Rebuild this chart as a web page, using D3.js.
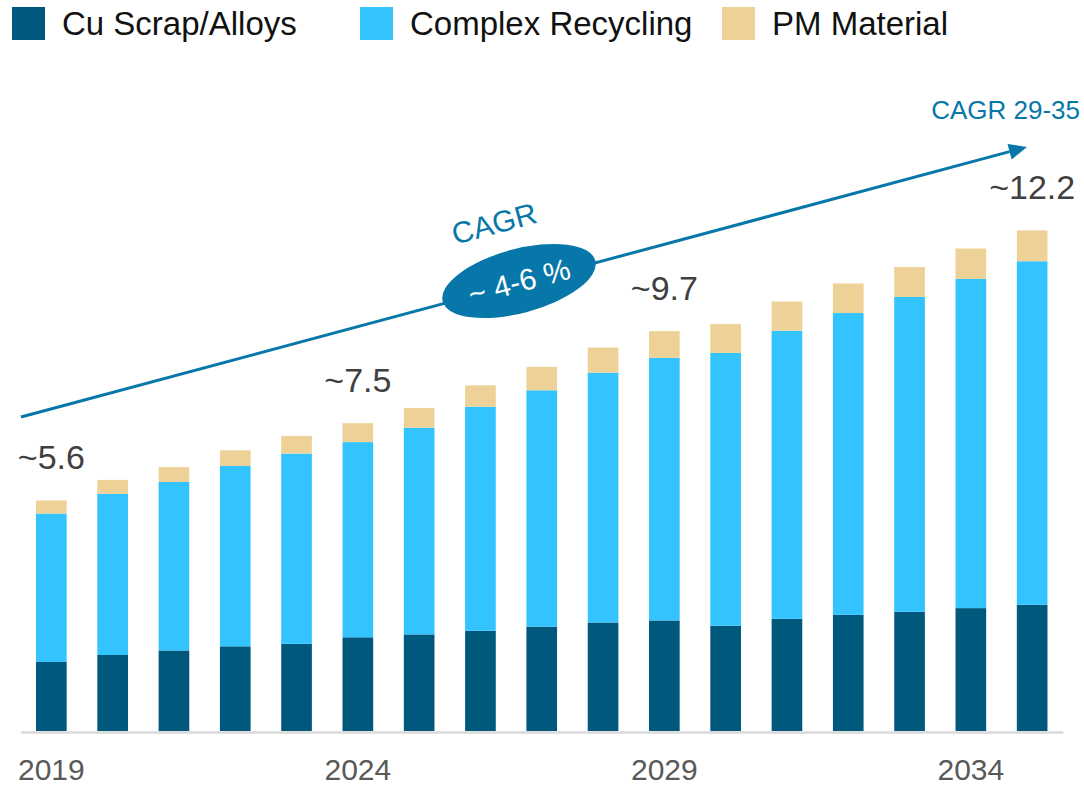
<!DOCTYPE html>
<html>
<head>
<meta charset="utf-8">
<script src="https://cdn.jsdelivr.net/npm/d3@7"></script>
<style>
    body { margin: 0; background: #fff; }
    text { font-family: "Liberation Sans", Arial, sans-serif; }
</style>
</head>
<body>
<div id="chart"></div>
<script>
// data (values in same unit as the labels)
var years = ["2019", "2020", "2021", "2022", "2023", "2024", "2025", "2026", "2027",
             "2028", "2029", "2030", "2031", "2032", "2033", "2034", "2035"];
var cuScrap = [1.68, 1.85, 1.96, 2.06, 2.12, 2.28, 2.35, 2.44, 2.54, 2.64, 2.69, 2.56, 2.73, 2.83, 2.90, 2.99, 3.07];
var complexRecycling = [3.61, 3.92, 4.10, 4.39, 4.63, 4.75, 5.03, 5.45, 5.75, 6.08, 6.39, 6.64, 7.01, 7.34, 7.66, 8.01, 8.36];
var pmMaterial = [0.32, 0.34, 0.36, 0.38, 0.43, 0.46, 0.48, 0.52, 0.57, 0.61, 0.65, 0.70, 0.71, 0.72, 0.73, 0.74, 0.75];
var seriesNames = ["Cu Scrap/Alloys", "Complex Recycling", "PM Material"];
var tickYears = ["2019", "2024", "2029", "2034"];
var labelYears = ["2019", "2024", "2029", "2035"];
var labelTexts = ["~5.6", "~7.5", "~9.7", "~12.2"];

var colors = ["#00587c", "#33c4ff", "#eed196"];
var width = 1084, height = 787;

var svg = d3.select("#chart").append("svg")
    .attr("width", width)
    .attr("height", height);

var table = years.map(function(y, i) {
    return {year: y, cu: cuScrap[i], complex: complexRecycling[i], pm: pmMaterial[i]};
});
var stack = d3.stack().keys(["cu", "complex", "pm"]);
var layers = stack(table);

var x = d3.scaleBand()
    .domain(years)
    .range([20.7, 1062.8])
    .paddingInner(0.5)
    .paddingOuter(0.25);

var y = d3.scaleLinear()
    .domain([0, 12.2])
    .range([731, 229.6]);

// bars
var layer = svg.append("g").selectAll(".layer")
    .data(layers)
    .enter()
    .append("g")
    .attr("class", "layer")
    .attr("fill", function(d, i) { return colors[i]; });

layer.selectAll("rect")
    .data(function(d) { return d; })
    .enter()
    .append("rect")
    .attr("x", function(d) { return x(d.data.year); })
    .attr("y", function(d) { return y(d[1]); })
    .attr("width", x.bandwidth())
    .attr("height", function(d) { return y(d[0]) - y(d[1]); });

// x axis
var xAxis = svg.append("g")
    .attr("transform", "translate(0,732)")
    .call(d3.axisBottom(x).tickValues(tickYears).tickSize(0).tickSizeOuter(0).tickPadding(27));
xAxis.select(".domain")
    .attr("stroke", "#d9d9d9")
    .attr("stroke-width", 2.5);
xAxis.selectAll("text")
    .attr("font-size", 30)
    .attr("font-family", "'Liberation Sans', Arial, sans-serif")
    .attr("fill", "#595959");

// value labels
var totals = {};
table.forEach(function(d) { totals[d.year] = d.cu + d.complex + d.pm; });
svg.append("g").selectAll("text")
    .data(labelYears)
    .enter()
    .append("text")
    .attr("x", function(d) { return x(d) + x.bandwidth() / 2; })
    .attr("y", function(d) { return y(totals[d]) - 31; })
    .attr("text-anchor", "middle")
    .attr("font-size", 34)
    .attr("fill", "#404040")
    .text(function(d, i) { return labelTexts[i]; });

// CAGR arrow
var blue = "#0677a8";
var x0 = 21, y0 = 417, x1 = 1027, y1 = 147;
var ang = Math.atan2(y1 - y0, x1 - x0);
var headLen = 18, headW = 8;
var bx = x1 - headLen * Math.cos(ang), by = y1 - headLen * Math.sin(ang);
svg.append("line")
    .attr("x1", x0).attr("y1", y0)
    .attr("x2", bx).attr("y2", by)
    .attr("stroke", blue)
    .attr("stroke-width", 3);
svg.append("path")
    .attr("d", "M" + x1 + "," + y1 +
        "L" + (bx + headW * Math.sin(ang)) + "," + (by - headW * Math.cos(ang)) +
        "L" + (bx - headW * Math.sin(ang)) + "," + (by + headW * Math.cos(ang)) + "Z")
    .attr("fill", blue);

var deg = ang * 180 / Math.PI;
var bubble = svg.append("g")
    .attr("transform", "translate(519,281) rotate(" + deg + ")");
bubble.append("ellipse")
    .attr("rx", 79)
    .attr("ry", 32)
    .attr("fill", blue);
bubble.append("text")
    .attr("y", 11)
    .attr("text-anchor", "middle")
    .attr("font-size", 30)
    .attr("fill", "#fff")
    .text("~ 4-6 %");

svg.append("g")
    .attr("transform", "translate(494,223) rotate(" + deg + ")")
    .append("text")
    .attr("y", 11)
    .attr("text-anchor", "middle")
    .attr("font-size", 30)
    .attr("fill", blue)
    .text("CAGR");

svg.append("text")
    .attr("x", 1080)
    .attr("y", 119)
    .attr("text-anchor", "end")
    .attr("font-size", 26)
    .attr("fill", blue)
    .text("CAGR 29-35");

// legend
var legendX = [12, 360, 722];
var legend = svg.append("g").selectAll(".legend_item")
    .data(seriesNames)
    .enter()
    .append("g")
    .attr("class", "legend_item")
    .attr("transform", function(d, i) { return "translate(" + legendX[i] + ",7)"; });

legend.append("rect")
    .attr("width", 33)
    .attr("height", 33)
    .attr("fill", function(d, i) { return colors[i]; });

legend.append("text")
    .attr("x", 50)
    .attr("y", 28)
    .attr("font-size", 33)
    .attr("fill", "#111")
    .text(function(d) { return d; });
</script>
</body>
</html>
